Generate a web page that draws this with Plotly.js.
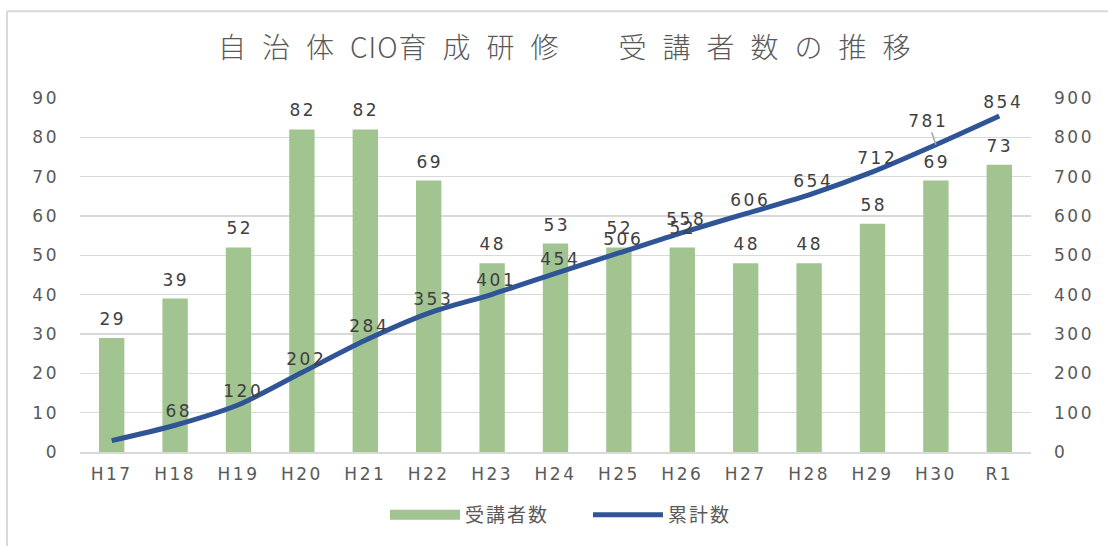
<!DOCTYPE html>
<html>
<head>
<meta charset="utf-8">
<script src="https://cdn.plot.ly/plotly-3.0.1.min.js"></script>
<style>
  html, body { margin: 0; padding: 0; background: #ffffff; }
  #chart { width: 1108px; height: 546px; }
  #chart .gtitle { letter-spacing: 16px; }
  #chart .xtick text, #chart .ytick text, #chart .y2tick text, #chart .annotation-text { letter-spacing: 2.5px; }
  #chart .legendtext { letter-spacing: 2px; }
  #chart .legend .traces { opacity: 1 !important; }
</style>
</head>
<body>
<div id="chart"></div>
<script>
// ---- data ----
const categories = ["H17","H18","H19","H20","H21","H22","H23","H24","H25","H26","H27","H28","H29","H30","R1"];
const participants = [29, 39, 52, 82, 82, 69, 48, 53, 52, 52, 48, 48, 58, 69, 73];
const cumulative = [29, 68, 120, 202, 284, 353, 401, 454, 506, 558, 606, 654, 712, 781, 854];
const seriesNames = ["受講者数", "累計数"];
const titleParts = ["自治体", "CIO", "育成研修　受講者数の推移"];
const leftTicks = [0, 10, 20, 30, 40, 50, 60, 70, 80, 90];
const rightTicks = [0, 100, 200, 300, 400, 500, 600, 700, 800, 900];

// ---- style ----
const barColor = "#A1C490";
const lineColor = "#2F5597";
const textColor = "#595959";
const labelColor = "#404040";
const gridColor = "#D9D9D9";
const numFont = "DejaVu Sans, Verdana, sans-serif";
const cjkFont = "Noto Sans CJK JP, Noto Sans, sans-serif";

const barTrace = {
  type: "bar",
  x: categories,
  y: participants,
  name: seriesNames[0],
  marker: { color: barColor },
  width: 0.4,
  yaxis: "y",
  showlegend: false,
  hoverinfo: "x+y"
};
// legend-only stand-in so the bar series gets a wide swatch like the reference
const barLegend = {
  type: "scatter",
  mode: "lines",
  x: categories,
  y: participants,
  name: seriesNames[0],
  line: { color: barColor, width: 10 },
  visible: "legendonly",
  yaxis: "y"
};
const lineTrace = {
  type: "scatter",
  mode: "lines",
  x: categories,
  y: cumulative,
  name: seriesNames[1],
  line: { color: lineColor, width: 5, shape: "spline", smoothing: 0.8 },
  yaxis: "y2",
  hoverinfo: "x+y"
};

const annotations = [];
participants.forEach((v, i) => {
  annotations.push({
    x: categories[i], y: v, xref: "x", yref: "y",
    text: String(v), showarrow: false, yshift: 19, xshift: 1,
    xanchor: "center", yanchor: "middle",
    font: { family: numFont, size: 17, color: labelColor }
  });
});
cumulative.forEach((v, i) => {
  if (i === 0) return;
  const a = {
    x: categories[i], y: v, xref: "x", yref: "y2",
    text: String(v), showarrow: false, yshift: 14, xshift: 4,
    xanchor: "center", yanchor: "middle",
    font: { family: numFont, size: 17, color: labelColor }
  };
  if (i === cumulative.length - 2) {
    a.showarrow = true; a.ax = -8; a.ay = -24; a.arrowhead = 0;
    a.arrowcolor = "#A6A6A6"; a.arrowwidth = 1.5; a.standoff = 0;
    a.yshift = 0; a.xshift = 0;
  }
  annotations.push(a);
});

const titleText = titleParts[0] + '<span style="letter-spacing:1px">' + titleParts[1] + '</span>' + titleParts[2];

const layout = {
  width: 1108, height: 546,
  margin: { l: 80, r: 77, t: 98, b: 89 },
  paper_bgcolor: "#ffffff", plot_bgcolor: "#ffffff",
  title: {
    text: titleText, x: 0.5165, xanchor: "center", y: 0.912, yanchor: "middle",
    font: { family: cjkFont, size: 28, color: textColor, weight: 300 }
  },
  showlegend: true,
  legend: {
    orientation: "h", x: 0.3207, xanchor: "left", y: -0.178, yanchor: "middle",
    font: { family: cjkFont, size: 19, color: textColor },
    itemwidth: 70, entrywidth: 118, traceorder: "normal"
  },
  bargap: 0.6,
  xaxis: {
    type: "category",
    tickfont: { family: numFont, size: 17, color: textColor },
    showline: true, linecolor: gridColor, linewidth: 2,
    ticks: "", showgrid: false, ticklabelstandoff: 6
  },
  yaxis: {
    range: [0, 90], tickvals: leftTicks,
    tickfont: { family: numFont, size: 17, color: textColor },
    showgrid: true, gridcolor: gridColor, gridwidth: 1.5,
    zeroline: false, showline: false, ticks: "", ticklabelstandoff: 20
  },
  yaxis2: {
    range: [0, 900], tickvals: rightTicks, overlaying: "y", side: "right",
    tickfont: { family: numFont, size: 17, color: textColor },
    showgrid: false, zeroline: false, showline: false, ticks: "", ticklabelstandoff: 22
  },
  annotations: annotations,
  shapes: [
    { type: "line", xref: "paper", yref: "paper", x0: -0.0768, x1: 1.1, y0: 1.245, y1: 1.245,
      line: { color: gridColor, width: 2 } },
    { type: "line", xref: "paper", yref: "paper", x0: -0.0768, x1: -0.0768, y0: 1.245, y1: -0.3,
      line: { color: gridColor, width: 2 } }
  ]
};

Plotly.newPlot("chart", [barTrace, barLegend, lineTrace], layout, { displayModeBar: false, staticPlot: true });
</script>
</body>
</html>
